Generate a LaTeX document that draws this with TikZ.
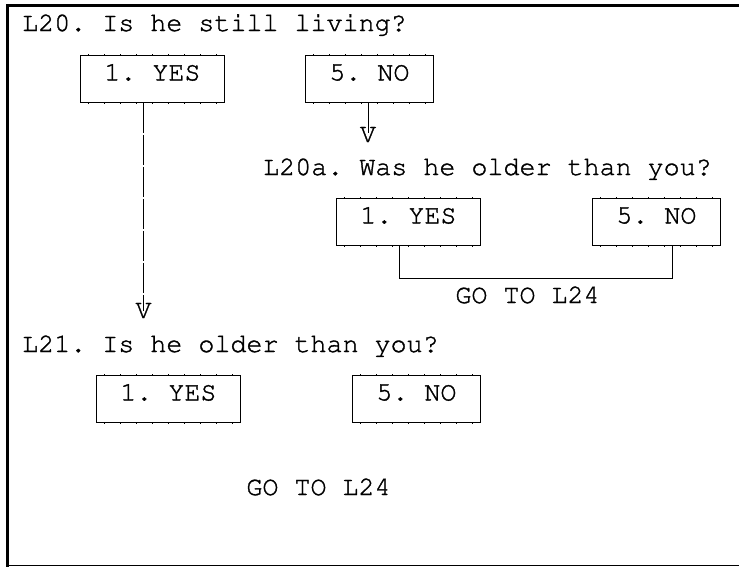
\documentclass[tikz,border=0pt]{standalone}
\usepackage[T1]{fontenc}
\usepackage{courier}
\usetikzlibrary{calc}
% slightly heavier strokes for the typewriter text
\newcommand{\heavytt}{\special{pdf:literal direct 2 Tr 0.35 w}}

\begin{document}
\begin{tikzpicture}[x=1pt,y=-1pt,
  every node/.style={font=\ttfamily\frenchspacing\fontsize{26.7}{30}\selectfont\heavytt,inner sep=0pt},
  qtext/.style={anchor=base west},
  ansbox/.style={draw,line width=0.8pt,anchor=north west,text height=25pt,text depth=22pt,minimum width=#1pt},
  ticks/.style={line width=2.4pt,dash pattern=on 0.8pt off 15.2pt,dash phase=-8pt},
  link/.style={line width=1pt,dash pattern=on 30pt off 2pt},
  bracket/.style={line width=0.8pt}]
\useasboundingbox (0,0) rectangle (739,568);
% frame, open on the right
\draw[line width=3pt] (739,5.5) -- (7.5,5.5) -- (7.5,566.5);
\draw[line width=1.5pt] (6,565.5) -- (739,565.5);
% L20
\node[qtext] (q20) at (22,31) {L20. Is he still living?};
\node[ansbox=144] (yesA) at (80,55) {1. YES};
\node[ansbox=128] (noA) at (305,55) {5. NO};
\node[anchor=base] (vB) at (368,142) {V};
% L20a
\node[qtext] (q20a) at (263,175) {L20a. Was he older than you?};
\node[ansbox=144] (yesB) at (336,198) {1. YES};
\node[ansbox=128] (noB) at (592,198) {5. NO};
\coordinate (brL) at (399,278);
\coordinate (brR) at (672,278);
\node[anchor=base] (gotoB) at (527.5,303) {GO TO L24};
% L21
\node[anchor=base] (vA) at (143.5,318) {V};
\node[qtext] (q21) at (22,352) {L21. Is he older than you?};
\node[ansbox=144] (yesC) at (96,375) {1. YES};
\node[ansbox=128] (noC) at (352,375) {5. NO};
\node[anchor=base] (gotoC) at (318.5,495) {GO TO L24};
% little marks along the box edges
\foreach \b in {yesA,noA,yesB,noB,yesC,noC}{
  \draw[ticks] (\b.north west) -- (\b.north east);
  \draw[ticks] (\b.south west) -- (\b.south east);}
% connectors
\draw[link] (yesA.south -| vA) -- (vA.center);
\draw[link] (noA.south -| vB) -- (vB.center);
\draw[bracket] (yesB.south -| brL) -- (brL) -- (brR) -- (noB.south -| brR);
\end{tikzpicture}
\end{document}
